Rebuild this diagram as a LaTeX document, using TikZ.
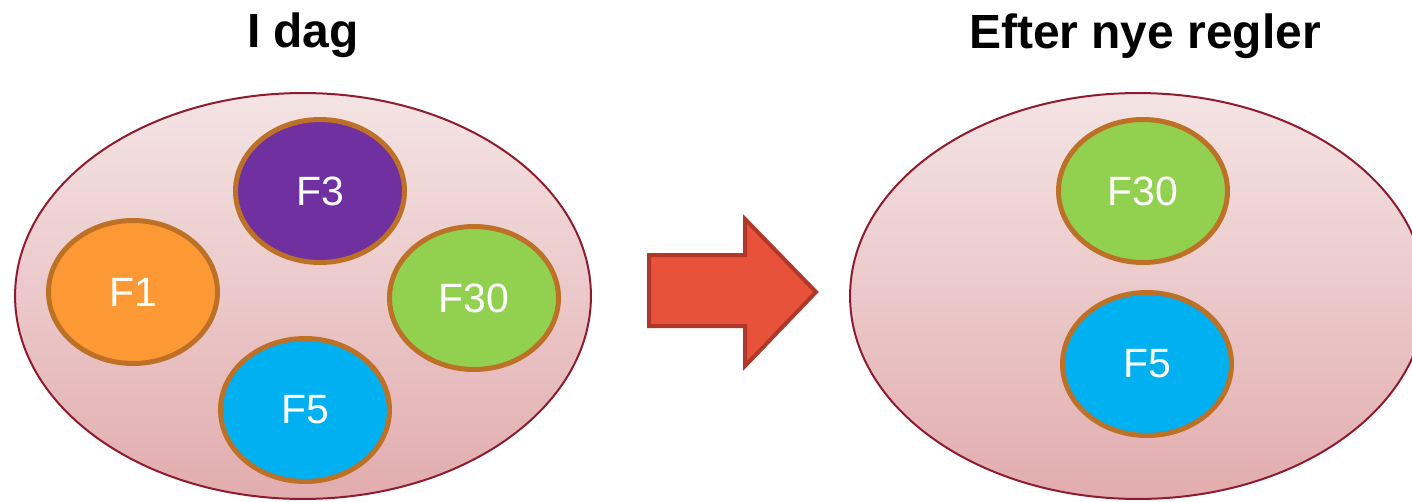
\documentclass[tikz,border=0pt]{standalone}
\usepackage{fontspec}
\setmainfont{Liberation Sans}
\usetikzlibrary{shapes.geometric}
\definecolor{rimred}{HTML}{8E1B2E}
\definecolor{pinktop}{HTML}{F4E4E4}
\definecolor{pinkbot}{HTML}{E2ACAE}
\definecolor{ringbrown}{HTML}{BD7127}
\definecolor{fone}{HTML}{FD9934}
\definecolor{fthree}{HTML}{7030A0}
\definecolor{fthirty}{HTML}{92D050}
\definecolor{ffive}{HTML}{00B0F0}
\definecolor{arrowred}{HTML}{E8513A}
\definecolor{arrowedge}{HTML}{B0382A}

\begin{document}
\begin{tikzpicture}[x=0.02cm, y=-0.02cm,
    group/.style={ellipse, draw=rimred, line width=0.04cm, top color=pinktop, bottom color=pinkbot,
        minimum width=11.52cm, minimum height=8.12cm},
    fund/.style={ellipse, draw=ringbrown, line width=0.1cm, text=white,
        font=\fontsize{23.3}{23.3}\selectfont, minimum width=3.38cm, minimum height=2.86cm},
    heading/.style={font=\bfseries\fontsize{27.3}{27.3}\selectfont, anchor=base}]
    \useasboundingbox (0,0) rectangle (1412,501);
    % headings
    \node[heading] (idag) at (303,47) {I dag};
    \node[heading] (efter) at (1145,48) {Efter nye regler};
    % groups
    \node[group] (today) at (303,296) {};
    \node[group] (after) at (1138,296) {};
    \node[fund, fill=fthree] (F3) at (320,191) {F3};
    \node[fund, fill=fone] (F1) at (133,292) {F1};
    \node[fund, fill=fthirty] (F30) at (474,298) {F30};
    \node[fund, fill=ffive] (F5) at (305,410) {F5};
    \node[fund, fill=fthirty] (newF30) at (1143,191) {F30};
    \node[fund, fill=ffive] (newF5) at (1147,364) {F5};
    % block arrow
    \draw[draw=arrowedge, fill=arrowred, line width=0.08cm, line join=miter]
        (649,255) -- (745,255) -- (745,219) -- (816,292) -- (745,366) -- (745,326) -- (649,326) -- cycle;
\end{tikzpicture}
\end{document}
